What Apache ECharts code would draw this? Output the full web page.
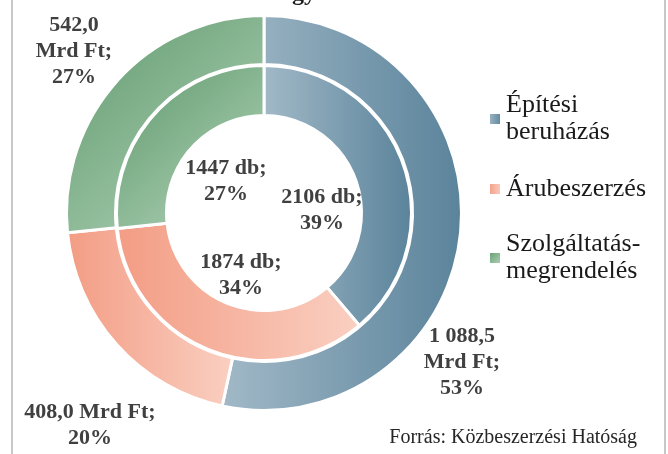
<!DOCTYPE html>
<html>
<head>
<meta charset="utf-8">
<script src="https://cdn.jsdelivr.net/npm/echarts@6/dist/echarts.min.js"></script>
<style>
html, body { margin: 0; padding: 0; background: #fff; }
#main { width: 668px; height: 454px; }
</style>
</head>
<body>
<div id="main"></div>
<script>
// kategóriák és értékek
var categories = ['Építési beruházás', 'Árubeszerzés', 'Szolgáltatás-megrendelés'];
var legendLabels = ['Építési\nberuházás', 'Árubeszerzés', 'Szolgáltatás-\nmegrendelés'];
var valueMrdFt = [1088.5, 408.0, 542.0];   // külső gyűrű
var countDb = [2106, 1874, 1447];          // belső gyűrű
var outerSep = ['\n', ' ', '\n'];

// címkék helye (középpont)
var outerLabelPos = [[462, 362], [90, 425], [74, 51]];
var innerLabelPos = [[322, 210], [241, 275], [226, 181]];

var serif = 'Liberation Serif';

var grad = function(i){
	if( i == 0 ){
		return new echarts.graphic.LinearGradient(0, 0, 1, 0, [
			{offset: 0, color: '#a2b9c7'}, {offset: 1, color: '#5a839b'}]);
	}else if( i == 1 ){
		return new echarts.graphic.LinearGradient(0, 0, 1, 0, [
			{offset: 0, color: '#f39c84'}, {offset: 1, color: '#fad0c2'}]);
	}
	return new echarts.graphic.LinearGradient(0, 0, 1, 1, [
		{offset: 0, color: '#5f996c'}, {offset: 1, color: '#b6d6bd'}]);
}

var fmtMrd = function(v){
	var s = v.toFixed(1).split('.');
	return s[0].replace(/\B(?=(\d{3})+(?!\d))/g, ' ') + ',' + s[1];
}

var buildData = function(values){
	var d = [];
	for( var i = 0; i < values.length; i++ ){
		d.push({ name: categories[i], value: values[i], itemStyle: { color: grad(i) } });
	}
	return d;
}

var labelStyle = {
	show: true,
	position: 'inside',
	fontFamily: serif,
	fontWeight: 'bold',
	fontSize: 22,
	lineHeight: 26,
	color: '#404040',
	align: 'center'
};

var legendBase = function(i, top, pad){
	return {
		orient: 'vertical',
		left: 488,
		top: top,
		padding: 0,
		itemWidth: 12,
		itemHeight: 12,
		icon: 'rect',
		selectedMode: false,
		formatter: function(name){ return legendLabels[categories.indexOf(name)]; },
		textStyle: { fontFamily: serif, fontSize: 26, lineHeight: 27, color: '#1a1a1a' },
		data: [{ name: categories[i], textStyle: { padding: [pad, 0, 0, 0] } }]
	};
}

var myChart = echarts.init(document.getElementById('main'));

var option = {
	backgroundColor: '#fff',
	animation: false,
	legend: [
		legendBase(0, 78.5, 27),
		legendBase(1, 175.5, 0),
		legendBase(2, 217.5, 27)
	],
	graphic: [
		{ type: 'line', shape: { x1: 12, y1: 0, x2: 12, y2: 454 }, style: { stroke: '#c8c8c8', lineWidth: 2 } },
		{ type: 'line', shape: { x1: 665, y1: 0, x2: 665, y2: 454 }, style: { stroke: '#c8c8c8', lineWidth: 2 } },
		{ type: 'text', x: 316, y: -6, style: { text: 'Közbeszerzések tárgy', align: 'right', verticalAlign: 'middle',
			font: 'bold 24px "Liberation Serif"', fill: '#1a1a1a' } },
		{ type: 'text', x: 637, y: 438, style: { text: 'Forrás: Közbeszerzési Hatóság', align: 'right', verticalAlign: 'middle',
			font: '20px "Liberation Serif"', fill: '#262626' } }
	],
	series: [
		{
			type: 'pie',
			center: [264, 213],
			radius: [148.5, 197.5],
			startAngle: 90,
			percentPrecision: 0,
			emphasis: { disabled: true },
			itemStyle: { borderColor: '#fff', borderWidth: 3 },
			label: Object.assign({}, labelStyle, {
				formatter: function(p){
					return fmtMrd(p.value) + outerSep[p.dataIndex] + 'Mrd Ft;\n' + p.percent + '%';
				}
			}),
			labelLine: { show: false },
			labelLayout: function(p){
				var pos = outerLabelPos[p.dataIndex];
				return { x: pos[0], y: pos[1], align: 'center', verticalAlign: 'middle' };
			},
			data: buildData(valueMrdFt)
		},
		{
			type: 'pie',
			center: [264, 213],
			radius: [97.5, 147.5],
			startAngle: 90,
			percentPrecision: 0,
			emphasis: { disabled: true },
			itemStyle: { borderColor: '#fff', borderWidth: 3 },
			label: Object.assign({}, labelStyle, {
				formatter: function(p){
					return p.value + ' db;\n' + p.percent + '%';
				}
			}),
			labelLine: { show: false },
			labelLayout: function(p){
				var pos = innerLabelPos[p.dataIndex];
				return { x: pos[0], y: pos[1], align: 'center', verticalAlign: 'middle' };
			},
			data: buildData(countDb)
		}
	]
};

myChart.setOption(option, true);
</script>
</body>
</html>
